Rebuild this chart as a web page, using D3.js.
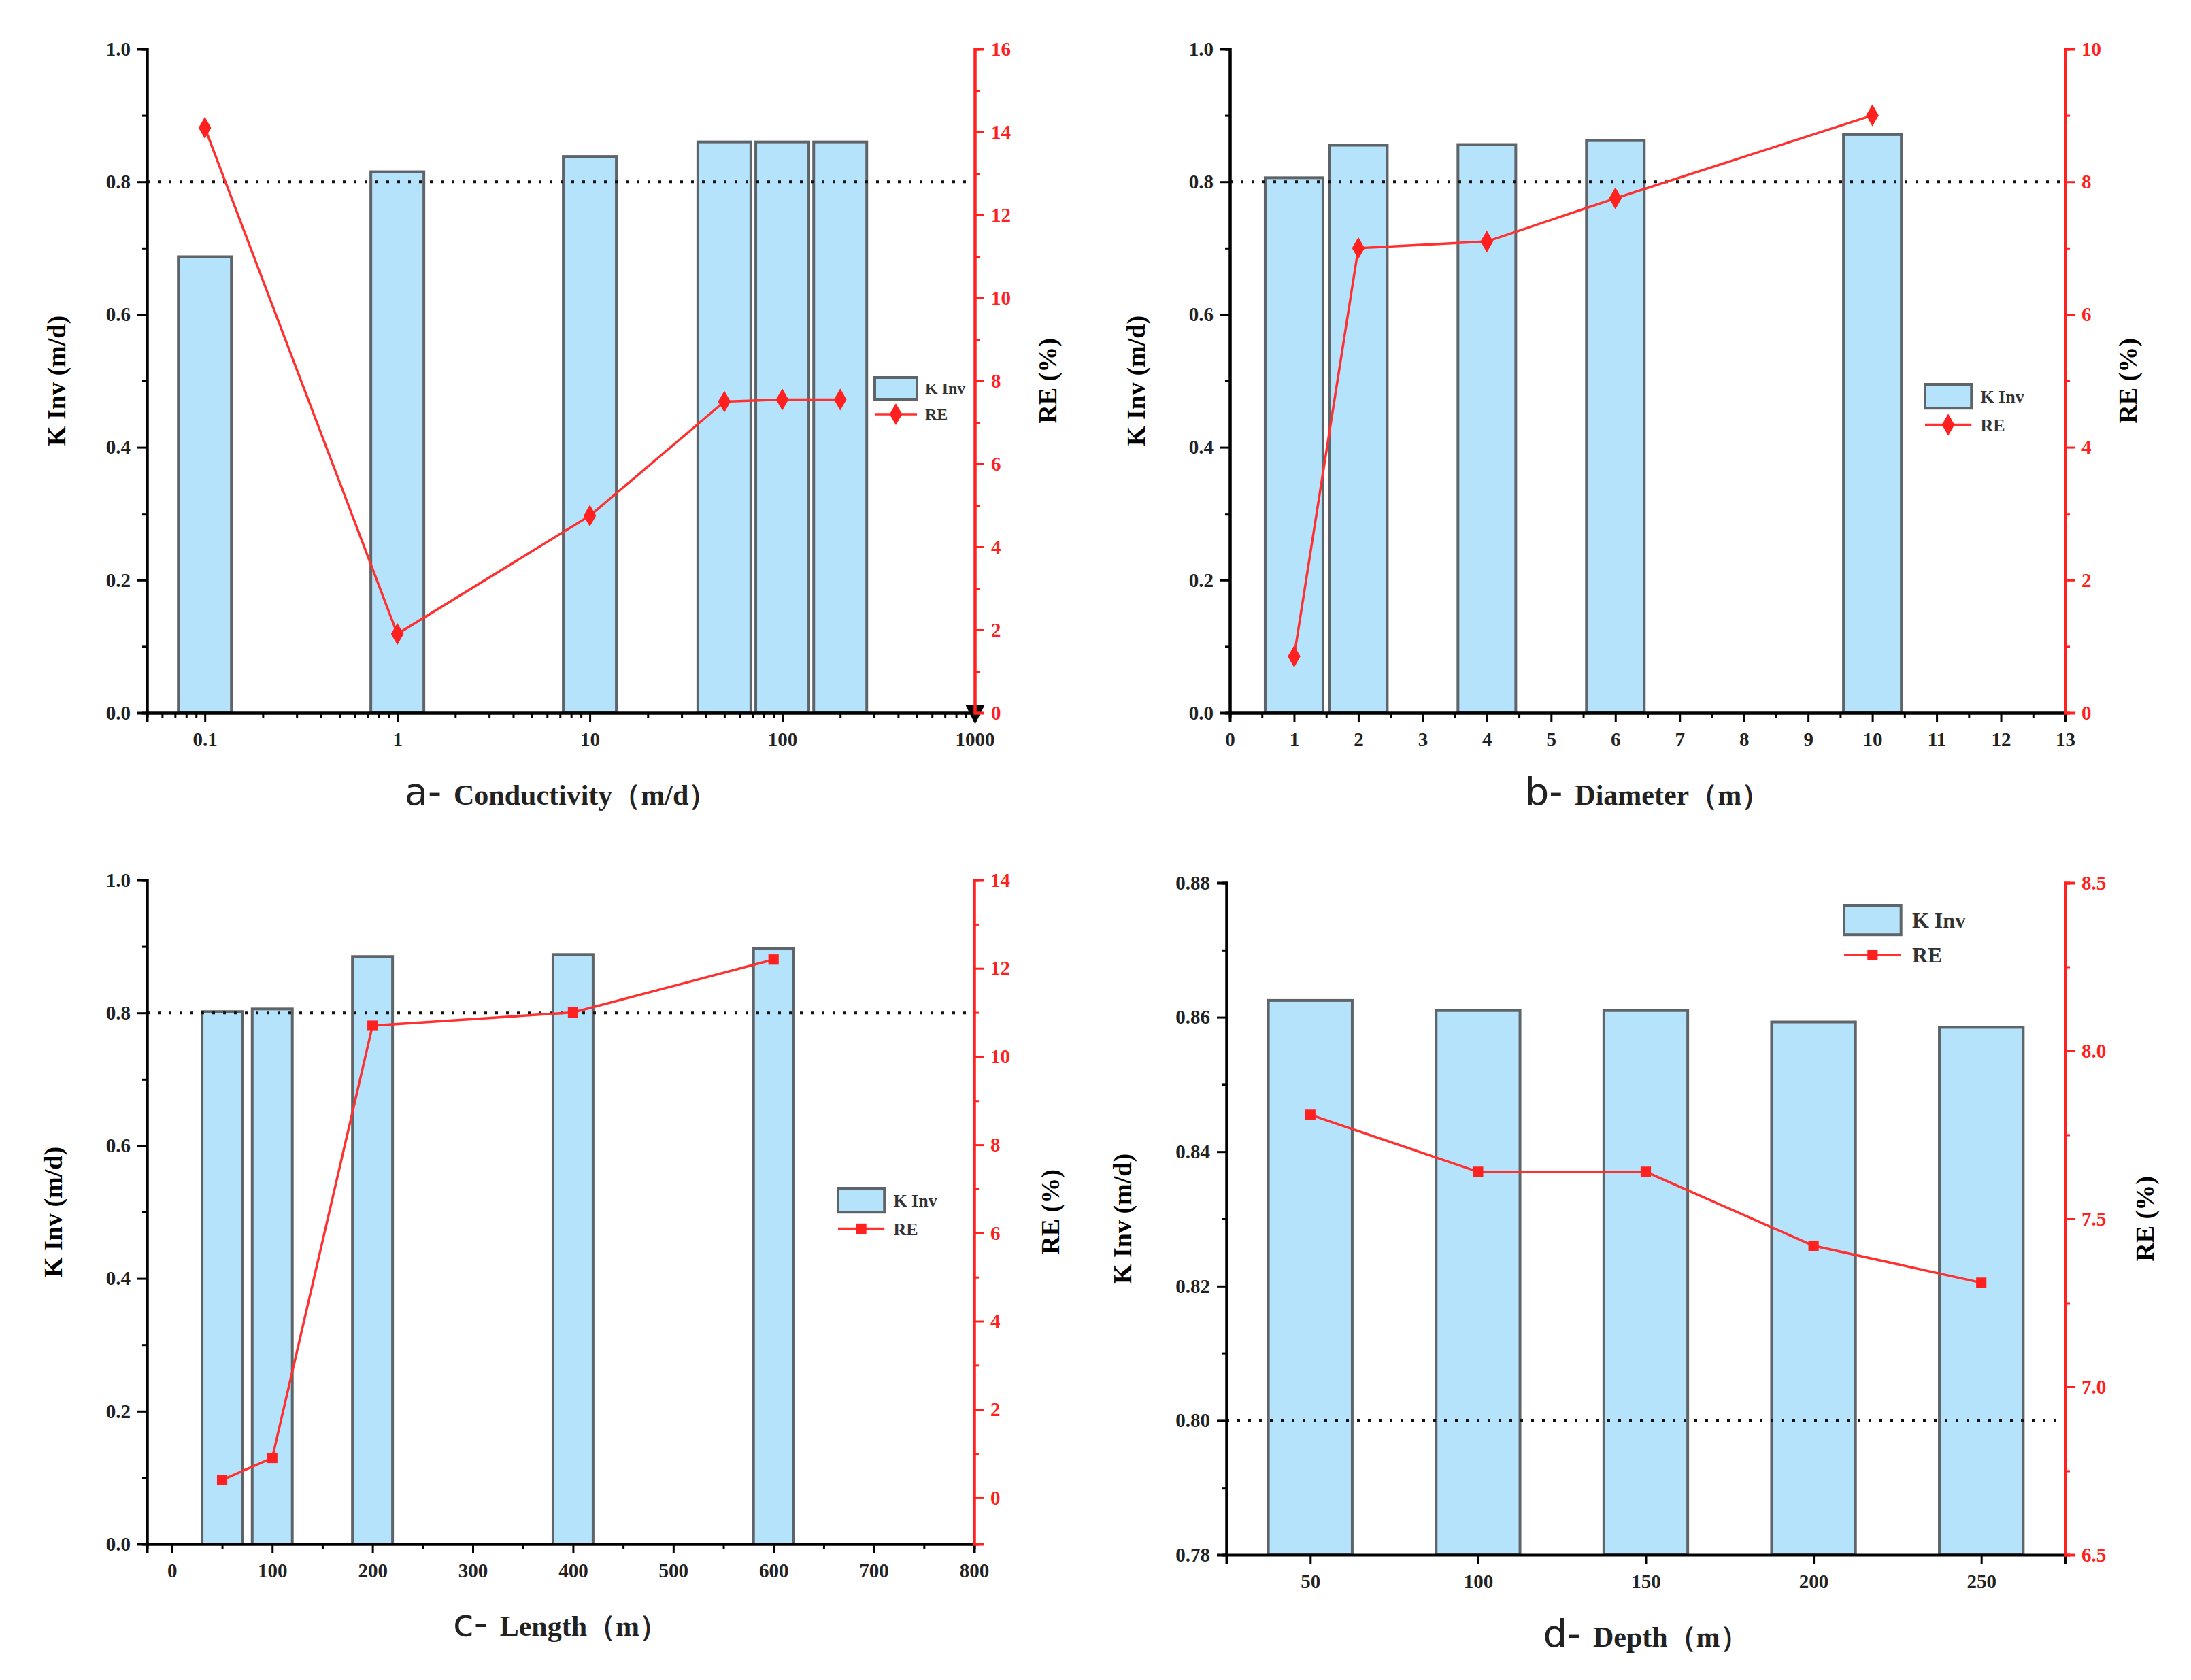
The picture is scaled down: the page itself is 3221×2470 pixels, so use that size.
<!DOCTYPE html>
<html><head><meta charset="utf-8">
<script src="https://cdn.jsdelivr.net/npm/d3@7"></script>
<style>body{margin:0;background:#fff}</style>
</head><body>
<svg id="c" width="3221" height="2470"></svg>
<script>
// data
const condX = [0.1, 1, 10, 50, 100, 200];
const condK = [0.687, 0.815, 0.838, 0.860, 0.860, 0.860];
const condRE = [14.1, 1.9, 4.75, 7.5, 7.55, 7.55];
const diamX = [1, 2, 4, 6, 10];
const diamK = [0.806, 0.855, 0.856, 0.862, 0.871];
const diamRE = [0.85, 7.0, 7.1, 7.75, 9.0];
const lenX = [50, 100, 200, 400, 600];
const lenK = [0.802, 0.806, 0.885, 0.888, 0.897];
const lenRE = [0.4, 0.9, 10.7, 11.0, 12.2];
const depX = [50, 100, 150, 200, 250];
const depK = [0.8625, 0.861, 0.861, 0.8593, 0.8585];
const depRE = [7.81, 7.64, 7.64, 7.42, 7.31];

const svg = d3.select('#c');
const serif = 'Liberation Serif, Times New Roman, serif';

function panel(o) {
  const g = svg.append('g').attr('transform', `translate(${o.x0},${o.y0})`);
  const W = o.w, H = o.h;
  const x = (o.log ? d3.scaleLog() : d3.scaleLinear()).domain(o.xd).range([0, W]);
  const y = d3.scaleLinear().domain(o.yd).range([H, 0]);
  const y2 = d3.scaleLinear().domain(o.y2d).range([H, 0]);

  // bars
  g.selectAll('.bar').data(o.xs).enter().append('rect')
    .attr('x', (d, i) => o.log ? x(d) - o.bw / 2 : x(d - o.bw / 2))
    .attr('width', (d) => o.log ? o.bw : x(d + o.bw / 2) - x(d - o.bw / 2))
    .attr('y', (d, i) => y(o.k[i]))
    .attr('height', (d, i) => H - y(o.k[i]))
    .attr('fill', '#b5e3fb').attr('stroke', '#5f6468').attr('stroke-width', 4);

  // dotted reference line
  g.append('line').attr('x1', 0).attr('x2', W).attr('y1', y(0.8)).attr('y2', y(0.8))
    .attr('stroke', '#111').attr('stroke-width', 4).attr('stroke-dasharray', '4,12');

  // RE line
  const pts = o.xs.map((d, i) => [x(d), y2(o.re[i])]);
  g.append('path').attr('d', d3.line()(pts)).attr('fill', 'none')
    .attr('stroke', '#ff3030').attr('stroke-width', 3.5);
  const sym = d3.symbol().type(o.sym === 'sq' ? d3.symbolSquare : d3.symbolDiamond).size(o.sym === 'sq' ? 230 : 300);
  g.selectAll('.pt').data(pts).enter().append('path')
    .attr('transform', d => `translate(${d[0]},${d[1]})`).attr('d', sym).attr('fill', '#ff2020');

  // axes
  const fmt = o.yfmt || d3.format('.1f');
  const yl = g.append('g').call(d3.axisLeft(y).tickValues(o.yt).tickFormat(fmt).tickSize(14).tickPadding(10));
  g.append('g').call(d3.axisLeft(y).tickValues(o.ytm).tickFormat('').tickSize(7));
  const xa = g.append('g').attr('transform', `translate(0,${H})`);
  if (o.log) {
    xa.call(d3.axisBottom(x).tickValues(o.xt).tickFormat(d => String(d)).tickSize(14).tickPadding(14));
    const minors = [];
    for (let e = -2; e < 3; e++) for (let m = 2; m < 10; m++) { const v = m * Math.pow(10, e); if (v > o.xd[0] && v < o.xd[1]) minors.push(v); }
    g.append('g').attr('transform', `translate(0,${H})`).call(d3.axisBottom(x).tickValues(minors).tickFormat('').tickSize(7));
    xa.select('.domain').attr('marker-end', 'url(#arr)');
  } else {
    xa.call(d3.axisBottom(x).tickValues(o.xt).tickFormat(d3.format('d')).tickSize(14).tickPadding(14));
    if (o.xtm) g.append('g').attr('transform', `translate(0,${H})`).call(d3.axisBottom(x).tickValues(o.xtm).tickFormat('').tickSize(7));
  }
  const fmt2 = o.y2fmt || d3.format('d');
  const yr = g.append('g').attr('transform', `translate(${W},0)`)
    .call(d3.axisRight(y2).tickValues(o.y2t).tickFormat(fmt2).tickSize(14).tickPadding(10));
  g.append('g').attr('transform', `translate(${W},0)`).call(d3.axisRight(y2).tickValues(o.y2tm).tickFormat('').tickSize(7))
    .selectAll('line,path').attr('stroke', '#ff2020').attr('stroke-width', 3);
  g.selectAll('.domain').attr('stroke-width', 4);
  g.selectAll('.tick line').attr('stroke-width', 3);
  g.selectAll('text').attr('font-family', serif).attr('font-weight', 'bold').attr('font-size', 29).attr('fill', '#222');
  yr.selectAll('text').attr('fill', '#ff2020');
  yr.selectAll('line,path').attr('stroke', '#ff2020');

  // axis titles
  g.append('text').attr('transform', `translate(${-o.ylx},${H / 2}) rotate(-90)`).attr('text-anchor', 'middle')
    .attr('font-family', serif).attr('font-weight', 'bold').attr('font-size', 38).text('K Inv (m/d)');
  g.append('text').attr('transform', `translate(${W + o.y2lx},${H / 2}) rotate(-90)`).attr('text-anchor', 'middle')
    .attr('font-family', serif).attr('font-weight', 'bold').attr('font-size', 38).text('RE (%)');
  const t = g.append('text').attr('x', W / 2 + o.tdx).attr('y', H + 135).attr('text-anchor', 'middle')
    .attr('font-family', serif).attr('fill', '#222');
  t.append('tspan').attr('font-size', 56).attr('font-family', 'DejaVu Sans').attr('font-weight', 'normal').text(o.letter + '- ');
  t.append('tspan').attr('font-size', 42).attr('font-weight', 'bold').text(o.title);

  // legend
  const L = g.append('g').attr('transform', `translate(${o.lx},${o.ly})`);
  const fs = o.lfs, sc = o.lsc;
  L.append('rect').attr('x', 0).attr('y', 0).attr('width', 62 * sc).attr('height', 32 * sc)
    .attr('fill', '#b5e3fb').attr('stroke', '#5f6468').attr('stroke-width', 4);
  L.append('line').attr('x1', 0).attr('x2', 62 * sc).attr('y1', 54 * sc).attr('y2', 54 * sc).attr('stroke', '#ff3030').attr('stroke-width', 3.5);
  L.append('path').attr('transform', `translate(${31 * sc},${54 * sc})`).attr('d', sym).attr('fill', '#ff2020');
  L.append('text').attr('x', 74 * sc).attr('y', 16 * sc).attr('dy', '0.35em').attr('font-size', fs)
    .attr('font-family', serif).attr('font-weight', 'bold').attr('fill', '#333').text('K Inv');
  L.append('text').attr('x', 74 * sc).attr('y', 54 * sc).attr('dy', '0.35em').attr('font-size', fs)
    .attr('font-family', serif).attr('font-weight', 'bold').attr('fill', '#333').text('RE');
}

svg.append('defs').append('marker').attr('id', 'arr').attr('viewBox', '0 0 10 10').attr('refX', 9).attr('refY', 5)
  .attr('markerWidth', 7).attr('markerHeight', 7).attr('orient', 'auto')
  .append('path').attr('d', 'M0,0L10,5L0,10z').attr('fill', '#000');

const r = (a, b, s) => d3.range(a, b + 1e-9, s);

panel({ x0: 216, y0: 72, w: 1217, h: 976, log: true, xd: [0.05, 1000], xs: condX, k: condK, re: condRE, bw: 78,
  xt: [0.1, 1, 10, 100, 1000], yd: [0, 1], yt: r(0, 1, 0.2), ytm: r(0.1, 0.9, 0.2),
  y2d: [0, 16], y2t: r(0, 16, 2), y2tm: r(1, 15, 2), sym: 'di', ylx: 120, y2lx: 120, tdx: 0, letter: 'a', title: 'Conductivity（m/d）',
  lx: 1070, ly: 483, lfs: 24, lsc: 1 });
panel({ x0: 1808, y0: 72, w: 1228, h: 976, xd: [0, 13], xs: diamX, k: diamK, re: diamRE, bw: 0.9,
  xt: r(0, 13, 1), xtm: r(0.5, 12.5, 1), yd: [0, 1], yt: r(0, 1, 0.2), ytm: r(0.1, 0.9, 0.2),
  y2d: [0, 10], y2t: r(0, 10, 2), y2tm: r(1, 9, 2), sym: 'di', ylx: 125, y2lx: 105, tdx: 0, letter: 'b', title: 'Diameter（m）',
  lx: 1022, ly: 493, lfs: 26, lsc: 1.1 });
panel({ x0: 216, y0: 1294, w: 1216, h: 976, xd: [-25, 800], xs: lenX, k: lenK, re: lenRE, bw: 40,
  xt: r(0, 800, 100), xtm: r(50, 750, 100), yd: [0, 1], yt: r(0, 1, 0.2), ytm: r(0.1, 0.9, 0.2),
  y2d: [-1.05, 14], y2t: r(0, 14, 2), y2tm: r(1, 13, 2), sym: 'sq', ylx: 125, y2lx: 125, tdx: 0, letter: 'c', title: 'Length（m）',
  lx: 1016, ly: 453, lfs: 26, lsc: 1.1 });
panel({ x0: 1803, y0: 1298, w: 1233, h: 988, xd: [25, 275], xs: depX, k: depK, re: depRE, bw: 25,
  xt: depX, yd: [0.78, 0.88], yt: r(0.78, 0.88, 0.02), ytm: r(0.79, 0.87, 0.02), yfmt: d3.format('.2f'),
  y2d: [6.5, 8.5], y2t: r(6.5, 8.5, 0.5), y2tm: r(6.75, 8.25, 0.5), y2fmt: d3.format('.1f'),
  sym: 'sq', ylx: 140, y2lx: 130, tdx: 0, letter: 'd', title: 'Depth（m）',
  lx: 908, ly: 33, lfs: 32, lsc: 1.35 });
</script>
</body></html>
